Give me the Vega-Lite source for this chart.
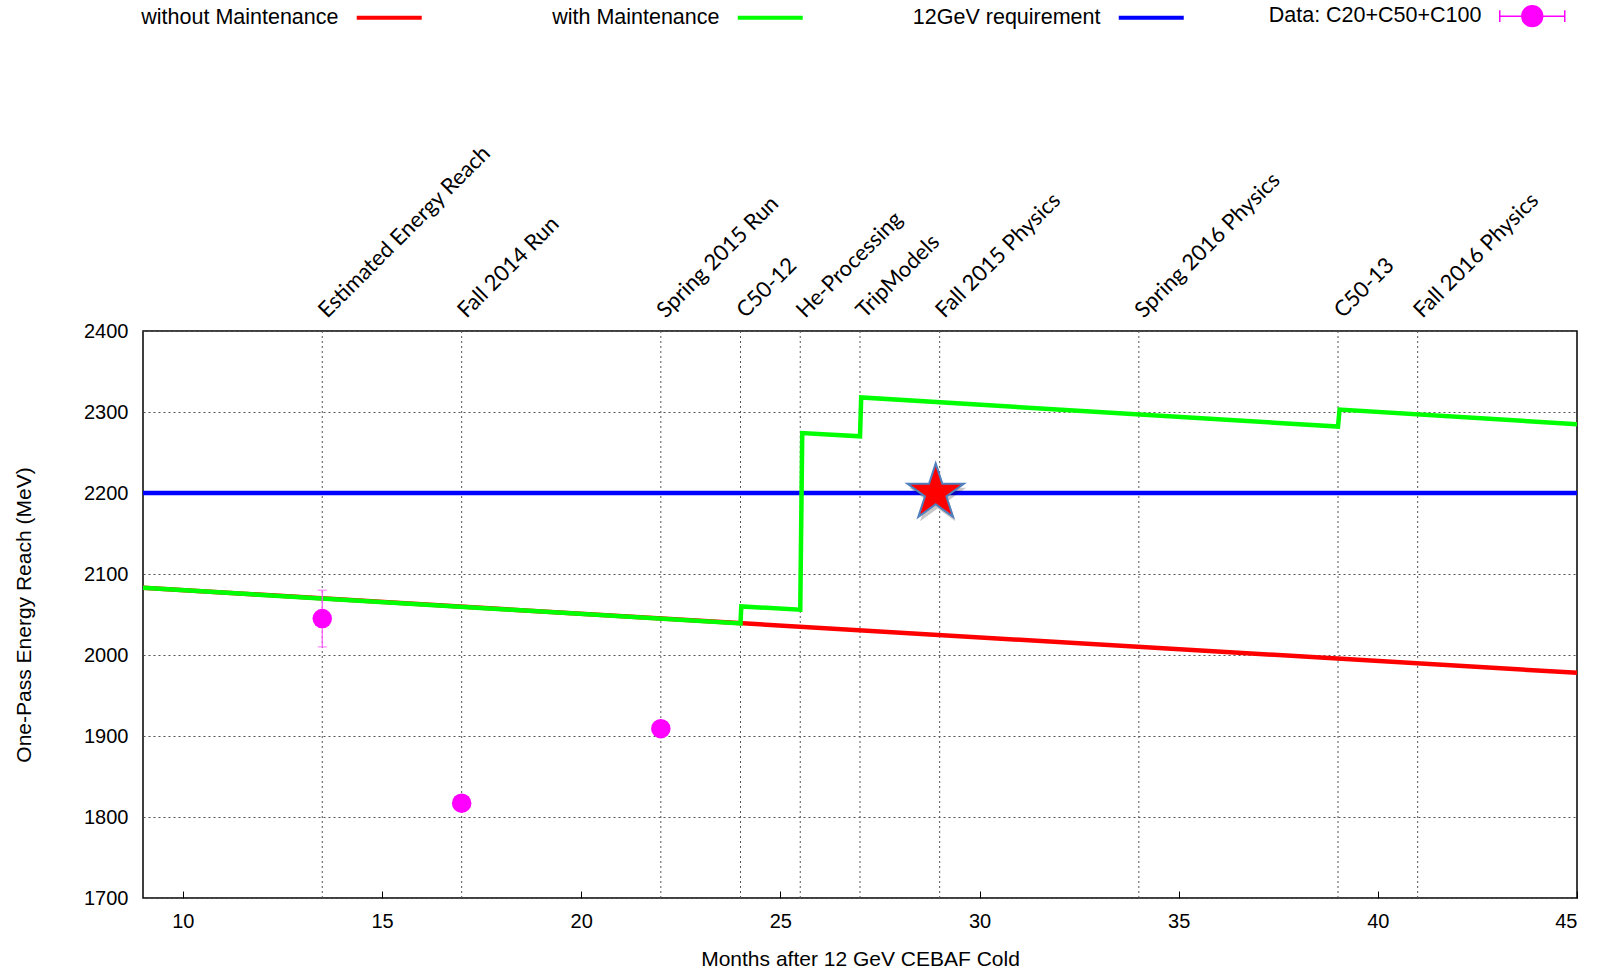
{
  "$schema": "https://vega.github.io/schema/vega-lite/v6.json",
  "width": 1434,
  "height": 567,
  "autosize": {"type": "none"},
  "padding": {"left": 143, "top": 331, "right": 31, "bottom": 72},
  "background": "white",
  "config": {
    "view": {"stroke": "#000", "strokeWidth": 1.5},
    "axis": {
      "labelFont": "Liberation Sans", "labelFontSize": 20, "labelColor": "#000",
      "titleFont": "Liberation Sans", "titleFontSize": 21, "titleFontWeight": "normal", "titleColor": "#000",
      "domain": false
    },
    "legend": {
      "orient": "none", "legendX": 257, "legendY": -326,
      "direction": "horizontal", "columns": 4, "gridAlign": "all",
      "padding": 0,
      "symbolSize": 4225, "symbolStrokeWidth": 4, "symbolType": "stroke", "symbolOffset": -21.5,
      "labelFont": "Liberation Sans", "labelFontSize": 21.5, "labelColor": "#000",
      "labelAlign": "right", "labelOffset": -61.5, "labelLimit": 500,
      "columnPadding": 76
    }
  },
  "datasets": {
    "lines": [
      {"series": "without Maintenance", "month": 9, "mev": 2083, "ord": 0},
      {"series": "without Maintenance", "month": 45, "mev": 1978, "ord": 1},
      {"series": "12GeV requirement", "month": 9, "mev": 2200, "ord": 0},
      {"series": "12GeV requirement", "month": 45, "mev": 2200, "ord": 1},
      {"series": "with Maintenance", "month": 9, "mev": 2083, "ord": 0},
      {"series": "with Maintenance", "month": 24, "mev": 2039, "ord": 1},
      {"series": "with Maintenance", "month": 24.02, "mev": 2060, "ord": 2},
      {"series": "with Maintenance", "month": 25.5, "mev": 2056, "ord": 3},
      {"series": "with Maintenance", "month": 25.55, "mev": 2274, "ord": 4},
      {"series": "with Maintenance", "month": 27, "mev": 2270, "ord": 5},
      {"series": "with Maintenance", "month": 27.03, "mev": 2318, "ord": 6},
      {"series": "with Maintenance", "month": 39, "mev": 2282, "ord": 7},
      {"series": "with Maintenance", "month": 39.04, "mev": 2303, "ord": 8},
      {"series": "with Maintenance", "month": 45, "mev": 2285, "ord": 9}
    ],
    "points": [
      {"series": "Data: C20+C50+C100", "month": 13.5, "mev": 2045, "lo": 2010, "hi": 2080},
      {"series": "Data: C20+C50+C100", "month": 17, "mev": 1817, "lo": null, "hi": null},
      {"series": "Data: C20+C50+C100", "month": 22, "mev": 1909, "lo": null, "hi": null}
    ],
    "events": [
      {"month": 13.5, "label": "Estimated Energy Reach"},
      {"month": 17, "label": "Fall 2014 Run"},
      {"month": 22, "label": "Spring 2015 Run"},
      {"month": 24, "label": "C50-12"},
      {"month": 25.5, "label": "He-Processing"},
      {"month": 27, "label": "TripModels"},
      {"month": 29, "label": "Fall 2015 Physics"},
      {"month": 34, "label": "Spring 2016 Physics"},
      {"month": 39, "label": "C50-13"},
      {"month": 41, "label": "Fall 2016 Physics"}
    ],
    "star": [
      {"month": 28.9, "mev": 2200}
    ]
  },
  "layer": [
    {
      "data": {"name": "events"},
      "mark": {"type": "rule", "color": "#555", "strokeWidth": 1, "strokeDash": [2, 3]},
      "encoding": {
        "x": {
          "field": "month", "type": "quantitative",
          "scale": {"domain": [9, 45], "nice": false, "zero": false},
          "axis": {
            "orient": "bottom", "title": "Months after 12 GeV CEBAF Cold",
            "values": [10, 15, 20, 25, 30, 35, 40, 45],
            "grid": false, "ticks": true, "tickSize": -7, "tickColor": "#000", "tickWidth": 1,
            "labelPadding": 20, "titleY": 61, "titleBaseline": "middle"
          }
        }
      }
    },
    {
      "data": {"name": "lines"},
      "transform": [{"filter": "datum.series === 'without Maintenance'"}],
      "mark": {"type": "line", "strokeWidth": 4.5},
      "encoding": {
        "x": {"field": "month", "type": "quantitative"},
        "y": {
          "field": "mev", "type": "quantitative",
          "title": "One-Pass Energy Reach (MeV)",
          "scale": {"domain": [1700, 2400], "nice": false, "zero": false},
          "axis": {
            "title": "One-Pass Energy Reach (MeV)", "format": "d",
            "values": [1700, 1800, 1900, 2000, 2100, 2200, 2300, 2400],
            "grid": true, "gridColor": "#555", "gridDash": [2, 3], "gridWidth": 1,
            "ticks": false, "labelPadding": 15,
            "titleX": -119, "titleBaseline": "middle"
          }
        },
        "color": {
          "field": "series", "type": "nominal",
          "scale": {
            "domain": ["without Maintenance", "with Maintenance", "12GeV requirement", "Data: C20+C50+C100"],
            "range": ["#ff0000", "#00ff00", "#0000ff", "#ff00ff"]
          },
          "legend": {
            "title": null,
            "encode": {
              "symbols": {
                "update": {
                  "shape": {"signal": "datum.value === 'Data: C20+C50+C100' ? 'M-1,0L1,0M-1,-0.18L-1,0.18M1,-0.18L1,0.18M-0.32,0A0.32,0.32 0 1,0 0.32,0A0.32,0.32 0 1,0 -0.32,0Z' : 'stroke'"},
                  "fill": {"signal": "datum.value === 'Data: C20+C50+C100' ? '#ff00ff' : 'transparent'"},
                  "stroke": {"signal": "scale('color', datum.value)"},
                  "strokeWidth": {"signal": "datum.value === 'Data: C20+C50+C100' ? 1.5 : 4"},
                  "opacity": {"value": 1}
                }
              }
            }
          }
        },
        "order": {"field": "ord", "type": "quantitative"}
      }
    },
    {
      "data": {"name": "lines"},
      "transform": [{"filter": "datum.series === '12GeV requirement'"}],
      "mark": {"type": "line", "strokeWidth": 4.5},
      "encoding": {
        "x": {"field": "month", "type": "quantitative"},
        "y": {"field": "mev", "type": "quantitative", "title": "One-Pass Energy Reach (MeV)"},
        "color": {"field": "series", "type": "nominal"},
        "order": {"field": "ord", "type": "quantitative"}
      }
    },
    {
      "data": {"name": "lines"},
      "transform": [{"filter": "datum.series === 'with Maintenance'"}],
      "mark": {"type": "line", "strokeWidth": 4.5},
      "encoding": {
        "x": {"field": "month", "type": "quantitative"},
        "y": {"field": "mev", "type": "quantitative", "title": "One-Pass Energy Reach (MeV)"},
        "color": {"field": "series", "type": "nominal"},
        "order": {"field": "ord", "type": "quantitative"}
      }
    },
    {
      "data": {"name": "points"},
      "transform": [{"filter": "datum.lo != null"}],
      "mark": {"type": "errorbar", "color": "#ff55ff", "thickness": 1.2, "ticks": {"size": 9, "color": "#ff55ff"}},
      "encoding": {
        "x": {"field": "month", "type": "quantitative"},
        "y": {"field": "lo", "type": "quantitative", "title": "One-Pass Energy Reach (MeV)"},
        "y2": {"field": "hi"}
      }
    },
    {
      "data": {"name": "points"},
      "mark": {"type": "point", "filled": true, "shape": "circle", "size": 380, "opacity": 1},
      "encoding": {
        "x": {"field": "month", "type": "quantitative"},
        "y": {"field": "mev", "type": "quantitative", "title": "One-Pass Energy Reach (MeV)"},
        "color": {"field": "series", "type": "nominal"}
      }
    },
    {
      "data": {"name": "star"},
      "mark": {"type": "point", "filled": true, "shape": "M0,-1L0.2245,-0.309L0.951,-0.309L0.363,0.118L0.588,0.809L0,0.382L-0.588,0.809L-0.363,0.118L-0.951,-0.309L-0.2245,-0.309Z", "size": 3600, "color": "#000", "opacity": 0.22, "xOffset": 2, "yOffset": 4, "strokeWidth": 0},
      "encoding": {
        "x": {"field": "month", "type": "quantitative"},
        "y": {"field": "mev", "type": "quantitative", "title": "One-Pass Energy Reach (MeV)"}
      }
    },
    {
      "data": {"name": "star"},
      "mark": {"type": "point", "filled": true, "shape": "M0,-1L0.2245,-0.309L0.951,-0.309L0.363,0.118L0.588,0.809L0,0.382L-0.588,0.809L-0.363,0.118L-0.951,-0.309L-0.2245,-0.309Z", "size": 3500, "fill": "#ff0000", "stroke": "#4f7fbd", "strokeWidth": 2, "opacity": 1},
      "encoding": {
        "x": {"field": "month", "type": "quantitative"},
        "y": {"field": "mev", "type": "quantitative", "title": "One-Pass Energy Reach (MeV)"}
      }
    },
    {
      "data": {"name": "events"},
      "mark": {"type": "text", "angle": -45, "align": "left", "baseline": "alphabetic", "dx": 12, "dy": -5, "font": "Lato", "fontSize": 22, "color": "#000"},
      "encoding": {
        "x": {"field": "month", "type": "quantitative"},
        "y": {"datum": 2400, "type": "quantitative", "title": "One-Pass Energy Reach (MeV)"},
        "text": {"field": "label"}
      }
    }
  ]
}
